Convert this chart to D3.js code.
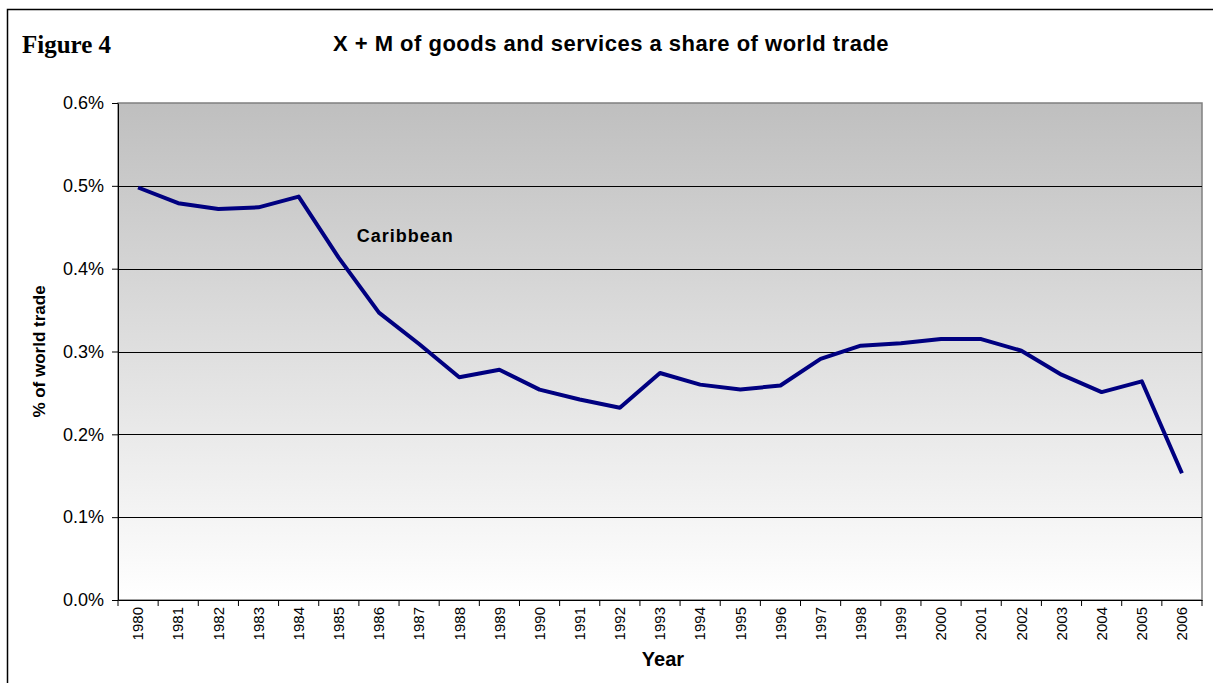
<!DOCTYPE html>
<html>
<head>
<meta charset="utf-8">
<script src="https://cdn.jsdelivr.net/npm/d3@7"></script>
<style>
    body { margin: 0; background: #fff; }
    svg { display: block; }
    .axis text { font-family: "Liberation Sans", Arial, sans-serif; fill: #000; }
</style>
</head>
<body>
<div id="chart"></div>
<script>
// chart data
let years = ["1980", "1981", "1982", "1983", "1984", "1985", "1986", "1987", "1988", "1989",
    "1990", "1991", "1992", "1993", "1994", "1995", "1996", "1997", "1998", "1999",
    "2000", "2001", "2002", "2003", "2004", "2005", "2006"]
let caribbeanShare = [0.498, 0.479, 0.472, 0.474, 0.487, 0.413, 0.347, 0.309, 0.269, 0.278,
    0.254, 0.242, 0.232, 0.274, 0.260, 0.254, 0.259, 0.291, 0.307, 0.310,
    0.315, 0.315, 0.301, 0.272, 0.251, 0.264, 0.153]
let yTicks = [0, 0.1, 0.2, 0.3, 0.4, 0.5, 0.6]
let seriesLabel = "Caribbean"
let labelAt = {year: "1985", value: 0.432}

let W = 1213, H = 683
let margin = {top: 103, right: 11, bottom: 83, left: 118}
let width = W - margin.left - margin.right
let height = H - margin.top - margin.bottom

let svg = d3.select("#chart").append("svg")
    .attr("width", W)
    .attr("height", H)

// outer frame (runs off the bottom/right like the original)
svg.append("rect")
    .attr("x", 7.5).attr("y", 9.5)
    .attr("width", W + 10).attr("height", H + 10)
    .attr("fill", "none").attr("stroke", "#000").attr("stroke-width", 1.5)

svg.append("text")
    .attr("x", 22).attr("y", 53)
    .style("font-family", "'Liberation Serif', 'Times New Roman', serif")
    .style("font-weight", "bold").style("font-size", "25px")
    .text("Figure 4")

svg.append("text")
    .attr("x", 611).attr("y", 51)
    .attr("text-anchor", "middle")
    .style("font-family", "'Liberation Sans', Arial, sans-serif")
    .style("font-weight", "bold").style("font-size", "22px")
    .style("letter-spacing", "0.5px")
    .text("X + M of goods and services a share of world trade")

// gradient for plot background
let defs = svg.append("defs")
let grad = defs.append("linearGradient").attr("id", "bg").attr("x1", 0).attr("y1", 0).attr("x2", 0).attr("y2", 1)
grad.append("stop").attr("offset", "0%").attr("stop-color", "#bfbfbf")
grad.append("stop").attr("offset", "100%").attr("stop-color", "#ffffff")

let g = svg.append("g").attr("transform", `translate(${margin.left}, ${margin.top})`)

let x = d3.scaleBand().domain(years).range([0, width])
let y = d3.scaleLinear().domain([0, 0.6]).range([height, 0])

g.append("rect")
    .attr("width", width).attr("height", height)
    .attr("fill", "url(#bg)")
    .attr("stroke", "#808080").attr("stroke-width", 1.5)

// gridlines
g.selectAll(".grid").data(yTicks.filter(d => d > 0 && d < 0.6)).enter().append("line")
    .attr("class", "grid")
    .attr("x1", 0).attr("x2", width)
    .attr("y1", d => Math.round(y(d)) + 0.5).attr("y2", d => Math.round(y(d)) + 0.5)
    .attr("stroke", "#000").attr("stroke-width", 1)

// y axis
let yAxis = d3.axisLeft(y).tickValues(yTicks).tickFormat(d => d.toFixed(1) + "%").tickSize(6).tickSizeOuter(0)
let yG = g.append("g").attr("class", "axis").call(yAxis)
yG.selectAll("text").style("font-size", "18px").attr("x", -14)
yG.selectAll("line, path").attr("stroke", "#000")

// x axis with ticks between categories
let xAxis = d3.axisBottom(x).tickSize(0).tickSizeOuter(0)
let xG = g.append("g").attr("class", "axis").attr("transform", `translate(0, ${height})`).call(xAxis)
xG.select("path").attr("stroke", "#000")
xG.selectAll("text")
    .style("font-size", "15px")
    .attr("transform", "rotate(-90)")
    .attr("text-anchor", "end")
    .attr("x", -7).attr("y", 0).attr("dy", "0.35em")
g.selectAll(".xtick").data(years.concat(["end"])).enter().append("line")
    .attr("class", "xtick")
    .attr("x1", (d, i) => i * x.bandwidth()).attr("x2", (d, i) => i * x.bandwidth())
    .attr("y1", height).attr("y2", height + 6)
    .attr("stroke", "#000")

// axis titles
svg.append("text")
    .attr("x", 663).attr("y", 666)
    .attr("text-anchor", "middle")
    .style("font-family", "'Liberation Sans', Arial, sans-serif")
    .style("font-weight", "bold").style("font-size", "20px")
    .text("Year")

svg.append("text")
    .attr("transform", `translate(45, ${margin.top + height / 2}) rotate(-90)`)
    .attr("text-anchor", "middle")
    .style("font-family", "'Liberation Sans', Arial, sans-serif")
    .style("font-weight", "bold").style("font-size", "17px")
    .text("% of world trade")

// series line
let line = d3.line()
    .x((d, i) => x(years[i]) + x.bandwidth() / 2)
    .y(d => y(d))

g.append("path")
    .datum(caribbeanShare)
    .attr("d", line)
    .attr("fill", "none")
    .attr("stroke", "#000080")
    .attr("stroke-width", 4)
    .attr("stroke-linejoin", "round")

g.append("text")
    .attr("x", x(labelAt.year) + x.bandwidth() / 2 + 18)
    .attr("y", y(labelAt.value))
    .style("font-family", "'Liberation Sans', Arial, sans-serif")
    .style("font-weight", "bold").style("font-size", "18px")
    .style("letter-spacing", "1px")
    .text(seriesLabel)
</script>
</body>
</html>
